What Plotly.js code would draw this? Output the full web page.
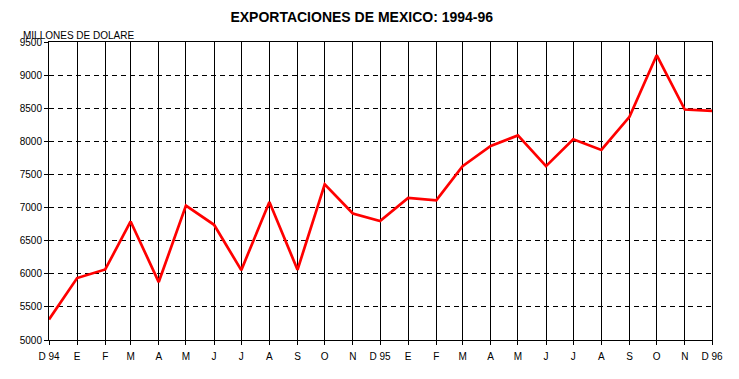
<!DOCTYPE html>
<html>
<head>
<meta charset="utf-8">
<script src="https://cdn.plot.ly/plotly-3.0.1.min.js"></script>
<style>html,body{margin:0;padding:0;background:#fff;}#chart{width:739px;height:379px;}</style>
</head>
<body>
<div id="chart"></div>
<script>
// Months (first of month), Dec 1994 .. Dec 1996
const months = [
  "1994-12-01","1995-01-01","1995-02-01","1995-03-01","1995-04-01","1995-05-01","1995-06-01",
  "1995-07-01","1995-08-01","1995-09-01","1995-10-01","1995-11-01","1995-12-01",
  "1996-01-01","1996-02-01","1996-03-01","1996-04-01","1996-05-01","1996-06-01",
  "1996-07-01","1996-08-01","1996-09-01","1996-10-01","1996-11-01","1996-12-01"
];
const tickLabels = [
  "D 94","E","F","M","A","M","J","J","A","S","O","N","D 95",
  "E","F","M","A","M","J","J","A","S","O","N","D 96"
];
// Exports, millions of dollars
const exportsValues = [
  5310, 5935, 6065, 6790, 5875, 7030, 6740, 6055, 7085, 6060, 7350, 6910, 6795,
  7145, 7110, 7625, 7930, 8090, 7625, 8030, 7870, 8370, 9300, 8480, 8460
];
const yTicks = [5000,5500,6000,6500,7000,7500,8000,8500,9000,9500];

const font = {family: "Arial, 'Liberation Sans', sans-serif", size: 10, color: "#000"};

Plotly.newPlot("chart", [{
  type: "scatter",
  mode: "lines",
  x: months,
  y: exportsValues,
  line: {color: "#ff0000", width: 2.7},
  hoverinfo: "skip"
}], {
  width: 739,
  height: 379,
  margin: {l: 49, r: 27, t: 42, b: 39, pad: 0},
  paper_bgcolor: "#fff",
  plot_bgcolor: "#fff",
  showlegend: false,
  font: font,
  title: {
    text: "<b>EXPORTACIONES DE MEXICO: 1994-96</b>",
    font: {family: "Arial, 'Liberation Sans', sans-serif", size: 14, color: "#000"},
    x: 0.4895, xanchor: "center", xref: "container",
    y: 0.955, yanchor: "middle", yref: "container"
  },
  xaxis: {
    type: "date",
    range: [months[0], months[months.length - 1]],
    tickmode: "array",
    tickvals: months,
    ticktext: tickLabels,
    showgrid: true,
    gridcolor: "#000",
    gridwidth: 1,
    showline: true,
    mirror: true,
    linecolor: "#000",
    linewidth: 1,
    ticks: "outside",
    ticklen: 4,
    tickcolor: "#000",
    tickfont: font,
    ticklabelstandoff: 3,
    zeroline: false,
    fixedrange: true
  },
  yaxis: {
    range: [5000, 9500],
    tickmode: "array",
    tickvals: yTicks,
    ticktext: yTicks.map(String),
    showgrid: true,
    gridcolor: "#000",
    gridwidth: 1,
    griddash: "5px,4px",
    showline: true,
    mirror: true,
    linecolor: "#000",
    linewidth: 1,
    ticks: "outside",
    ticklen: 4,
    tickcolor: "#000",
    tickfont: font,
    zeroline: false,
    fixedrange: true
  },
  annotations: [{
    text: "MILLONES DE DOLARE",
    xref: "paper", yref: "paper",
    x: -0.0427, xanchor: "left",
    y: 1.0234, yanchor: "middle",
    showarrow: false,
    font: font
  }]
}, {staticPlot: true, displayModeBar: false});
</script>
</body>
</html>
